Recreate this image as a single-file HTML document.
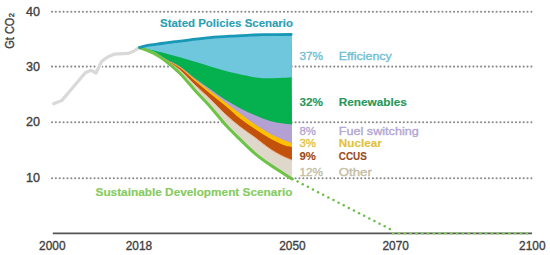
<!DOCTYPE html>
<html><head><meta charset="utf-8"><style>
html,body{margin:0;padding:0;background:#fff;width:550px;height:255px;overflow:hidden;}
svg{display:block;}
</style></head><body>
<svg width="550" height="255" viewBox="0 0 550 255">
<rect width="550" height="255" fill="#ffffff"/>
<g fill="#888888"><circle cx="52.00" cy="11.8" r="1.05"/><circle cx="55.87" cy="11.8" r="1.05"/><circle cx="59.73" cy="11.8" r="1.05"/><circle cx="63.60" cy="11.8" r="1.05"/><circle cx="67.46" cy="11.8" r="1.05"/><circle cx="71.33" cy="11.8" r="1.05"/><circle cx="75.20" cy="11.8" r="1.05"/><circle cx="79.06" cy="11.8" r="1.05"/><circle cx="82.93" cy="11.8" r="1.05"/><circle cx="86.80" cy="11.8" r="1.05"/><circle cx="90.66" cy="11.8" r="1.05"/><circle cx="94.53" cy="11.8" r="1.05"/><circle cx="98.39" cy="11.8" r="1.05"/><circle cx="102.26" cy="11.8" r="1.05"/><circle cx="106.13" cy="11.8" r="1.05"/><circle cx="109.99" cy="11.8" r="1.05"/><circle cx="113.86" cy="11.8" r="1.05"/><circle cx="117.72" cy="11.8" r="1.05"/><circle cx="121.59" cy="11.8" r="1.05"/><circle cx="125.46" cy="11.8" r="1.05"/><circle cx="129.32" cy="11.8" r="1.05"/><circle cx="133.19" cy="11.8" r="1.05"/><circle cx="137.05" cy="11.8" r="1.05"/><circle cx="140.92" cy="11.8" r="1.05"/><circle cx="144.79" cy="11.8" r="1.05"/><circle cx="148.65" cy="11.8" r="1.05"/><circle cx="152.52" cy="11.8" r="1.05"/><circle cx="156.39" cy="11.8" r="1.05"/><circle cx="160.25" cy="11.8" r="1.05"/><circle cx="164.12" cy="11.8" r="1.05"/><circle cx="167.98" cy="11.8" r="1.05"/><circle cx="171.85" cy="11.8" r="1.05"/><circle cx="175.72" cy="11.8" r="1.05"/><circle cx="179.58" cy="11.8" r="1.05"/><circle cx="183.45" cy="11.8" r="1.05"/><circle cx="187.31" cy="11.8" r="1.05"/><circle cx="191.18" cy="11.8" r="1.05"/><circle cx="195.05" cy="11.8" r="1.05"/><circle cx="198.91" cy="11.8" r="1.05"/><circle cx="202.78" cy="11.8" r="1.05"/><circle cx="206.65" cy="11.8" r="1.05"/><circle cx="210.51" cy="11.8" r="1.05"/><circle cx="214.38" cy="11.8" r="1.05"/><circle cx="218.24" cy="11.8" r="1.05"/><circle cx="222.11" cy="11.8" r="1.05"/><circle cx="225.98" cy="11.8" r="1.05"/><circle cx="229.84" cy="11.8" r="1.05"/><circle cx="233.71" cy="11.8" r="1.05"/><circle cx="237.57" cy="11.8" r="1.05"/><circle cx="241.44" cy="11.8" r="1.05"/><circle cx="245.31" cy="11.8" r="1.05"/><circle cx="249.17" cy="11.8" r="1.05"/><circle cx="253.04" cy="11.8" r="1.05"/><circle cx="256.90" cy="11.8" r="1.05"/><circle cx="260.77" cy="11.8" r="1.05"/><circle cx="264.64" cy="11.8" r="1.05"/><circle cx="268.50" cy="11.8" r="1.05"/><circle cx="272.37" cy="11.8" r="1.05"/><circle cx="276.24" cy="11.8" r="1.05"/><circle cx="280.10" cy="11.8" r="1.05"/><circle cx="283.97" cy="11.8" r="1.05"/><circle cx="287.83" cy="11.8" r="1.05"/><circle cx="291.70" cy="11.8" r="1.05"/><circle cx="295.57" cy="11.8" r="1.05"/><circle cx="299.43" cy="11.8" r="1.05"/><circle cx="303.30" cy="11.8" r="1.05"/><circle cx="307.16" cy="11.8" r="1.05"/><circle cx="311.03" cy="11.8" r="1.05"/><circle cx="314.90" cy="11.8" r="1.05"/><circle cx="318.76" cy="11.8" r="1.05"/><circle cx="322.63" cy="11.8" r="1.05"/><circle cx="326.50" cy="11.8" r="1.05"/><circle cx="330.36" cy="11.8" r="1.05"/><circle cx="334.23" cy="11.8" r="1.05"/><circle cx="338.09" cy="11.8" r="1.05"/><circle cx="341.96" cy="11.8" r="1.05"/><circle cx="345.83" cy="11.8" r="1.05"/><circle cx="349.69" cy="11.8" r="1.05"/><circle cx="353.56" cy="11.8" r="1.05"/><circle cx="357.42" cy="11.8" r="1.05"/><circle cx="361.29" cy="11.8" r="1.05"/><circle cx="365.16" cy="11.8" r="1.05"/><circle cx="369.02" cy="11.8" r="1.05"/><circle cx="372.89" cy="11.8" r="1.05"/><circle cx="376.75" cy="11.8" r="1.05"/><circle cx="380.62" cy="11.8" r="1.05"/><circle cx="384.49" cy="11.8" r="1.05"/><circle cx="388.35" cy="11.8" r="1.05"/><circle cx="392.22" cy="11.8" r="1.05"/><circle cx="396.09" cy="11.8" r="1.05"/><circle cx="399.95" cy="11.8" r="1.05"/><circle cx="403.82" cy="11.8" r="1.05"/><circle cx="407.68" cy="11.8" r="1.05"/><circle cx="411.55" cy="11.8" r="1.05"/><circle cx="415.42" cy="11.8" r="1.05"/><circle cx="419.28" cy="11.8" r="1.05"/><circle cx="423.15" cy="11.8" r="1.05"/><circle cx="427.01" cy="11.8" r="1.05"/><circle cx="430.88" cy="11.8" r="1.05"/><circle cx="434.75" cy="11.8" r="1.05"/><circle cx="438.61" cy="11.8" r="1.05"/><circle cx="442.48" cy="11.8" r="1.05"/><circle cx="446.35" cy="11.8" r="1.05"/><circle cx="450.21" cy="11.8" r="1.05"/><circle cx="454.08" cy="11.8" r="1.05"/><circle cx="457.94" cy="11.8" r="1.05"/><circle cx="461.81" cy="11.8" r="1.05"/><circle cx="465.68" cy="11.8" r="1.05"/><circle cx="469.54" cy="11.8" r="1.05"/><circle cx="473.41" cy="11.8" r="1.05"/><circle cx="477.27" cy="11.8" r="1.05"/><circle cx="481.14" cy="11.8" r="1.05"/><circle cx="485.01" cy="11.8" r="1.05"/><circle cx="488.87" cy="11.8" r="1.05"/><circle cx="492.74" cy="11.8" r="1.05"/><circle cx="496.60" cy="11.8" r="1.05"/><circle cx="500.47" cy="11.8" r="1.05"/><circle cx="504.34" cy="11.8" r="1.05"/><circle cx="508.20" cy="11.8" r="1.05"/><circle cx="512.07" cy="11.8" r="1.05"/><circle cx="515.94" cy="11.8" r="1.05"/><circle cx="519.80" cy="11.8" r="1.05"/><circle cx="523.67" cy="11.8" r="1.05"/><circle cx="527.53" cy="11.8" r="1.05"/><circle cx="531.40" cy="11.8" r="1.05"/></g>
<g fill="#888888"><circle cx="52.00" cy="66.6" r="1.05"/><circle cx="55.87" cy="66.6" r="1.05"/><circle cx="59.73" cy="66.6" r="1.05"/><circle cx="63.60" cy="66.6" r="1.05"/><circle cx="67.46" cy="66.6" r="1.05"/><circle cx="71.33" cy="66.6" r="1.05"/><circle cx="75.20" cy="66.6" r="1.05"/><circle cx="79.06" cy="66.6" r="1.05"/><circle cx="82.93" cy="66.6" r="1.05"/><circle cx="86.80" cy="66.6" r="1.05"/><circle cx="90.66" cy="66.6" r="1.05"/><circle cx="94.53" cy="66.6" r="1.05"/><circle cx="98.39" cy="66.6" r="1.05"/><circle cx="102.26" cy="66.6" r="1.05"/><circle cx="106.13" cy="66.6" r="1.05"/><circle cx="109.99" cy="66.6" r="1.05"/><circle cx="113.86" cy="66.6" r="1.05"/><circle cx="117.72" cy="66.6" r="1.05"/><circle cx="121.59" cy="66.6" r="1.05"/><circle cx="125.46" cy="66.6" r="1.05"/><circle cx="129.32" cy="66.6" r="1.05"/><circle cx="133.19" cy="66.6" r="1.05"/><circle cx="137.05" cy="66.6" r="1.05"/><circle cx="140.92" cy="66.6" r="1.05"/><circle cx="144.79" cy="66.6" r="1.05"/><circle cx="148.65" cy="66.6" r="1.05"/><circle cx="152.52" cy="66.6" r="1.05"/><circle cx="156.39" cy="66.6" r="1.05"/><circle cx="160.25" cy="66.6" r="1.05"/><circle cx="164.12" cy="66.6" r="1.05"/><circle cx="167.98" cy="66.6" r="1.05"/><circle cx="171.85" cy="66.6" r="1.05"/><circle cx="175.72" cy="66.6" r="1.05"/><circle cx="179.58" cy="66.6" r="1.05"/><circle cx="183.45" cy="66.6" r="1.05"/><circle cx="187.31" cy="66.6" r="1.05"/><circle cx="191.18" cy="66.6" r="1.05"/><circle cx="195.05" cy="66.6" r="1.05"/><circle cx="198.91" cy="66.6" r="1.05"/><circle cx="202.78" cy="66.6" r="1.05"/><circle cx="206.65" cy="66.6" r="1.05"/><circle cx="210.51" cy="66.6" r="1.05"/><circle cx="214.38" cy="66.6" r="1.05"/><circle cx="218.24" cy="66.6" r="1.05"/><circle cx="222.11" cy="66.6" r="1.05"/><circle cx="225.98" cy="66.6" r="1.05"/><circle cx="229.84" cy="66.6" r="1.05"/><circle cx="233.71" cy="66.6" r="1.05"/><circle cx="237.57" cy="66.6" r="1.05"/><circle cx="241.44" cy="66.6" r="1.05"/><circle cx="245.31" cy="66.6" r="1.05"/><circle cx="249.17" cy="66.6" r="1.05"/><circle cx="253.04" cy="66.6" r="1.05"/><circle cx="256.90" cy="66.6" r="1.05"/><circle cx="260.77" cy="66.6" r="1.05"/><circle cx="264.64" cy="66.6" r="1.05"/><circle cx="268.50" cy="66.6" r="1.05"/><circle cx="272.37" cy="66.6" r="1.05"/><circle cx="276.24" cy="66.6" r="1.05"/><circle cx="280.10" cy="66.6" r="1.05"/><circle cx="283.97" cy="66.6" r="1.05"/><circle cx="287.83" cy="66.6" r="1.05"/><circle cx="291.70" cy="66.6" r="1.05"/><circle cx="295.57" cy="66.6" r="1.05"/><circle cx="299.43" cy="66.6" r="1.05"/><circle cx="303.30" cy="66.6" r="1.05"/><circle cx="307.16" cy="66.6" r="1.05"/><circle cx="311.03" cy="66.6" r="1.05"/><circle cx="314.90" cy="66.6" r="1.05"/><circle cx="318.76" cy="66.6" r="1.05"/><circle cx="322.63" cy="66.6" r="1.05"/><circle cx="326.50" cy="66.6" r="1.05"/><circle cx="330.36" cy="66.6" r="1.05"/><circle cx="334.23" cy="66.6" r="1.05"/><circle cx="338.09" cy="66.6" r="1.05"/><circle cx="341.96" cy="66.6" r="1.05"/><circle cx="345.83" cy="66.6" r="1.05"/><circle cx="349.69" cy="66.6" r="1.05"/><circle cx="353.56" cy="66.6" r="1.05"/><circle cx="357.42" cy="66.6" r="1.05"/><circle cx="361.29" cy="66.6" r="1.05"/><circle cx="365.16" cy="66.6" r="1.05"/><circle cx="369.02" cy="66.6" r="1.05"/><circle cx="372.89" cy="66.6" r="1.05"/><circle cx="376.75" cy="66.6" r="1.05"/><circle cx="380.62" cy="66.6" r="1.05"/><circle cx="384.49" cy="66.6" r="1.05"/><circle cx="388.35" cy="66.6" r="1.05"/><circle cx="392.22" cy="66.6" r="1.05"/><circle cx="396.09" cy="66.6" r="1.05"/><circle cx="399.95" cy="66.6" r="1.05"/><circle cx="403.82" cy="66.6" r="1.05"/><circle cx="407.68" cy="66.6" r="1.05"/><circle cx="411.55" cy="66.6" r="1.05"/><circle cx="415.42" cy="66.6" r="1.05"/><circle cx="419.28" cy="66.6" r="1.05"/><circle cx="423.15" cy="66.6" r="1.05"/><circle cx="427.01" cy="66.6" r="1.05"/><circle cx="430.88" cy="66.6" r="1.05"/><circle cx="434.75" cy="66.6" r="1.05"/><circle cx="438.61" cy="66.6" r="1.05"/><circle cx="442.48" cy="66.6" r="1.05"/><circle cx="446.35" cy="66.6" r="1.05"/><circle cx="450.21" cy="66.6" r="1.05"/><circle cx="454.08" cy="66.6" r="1.05"/><circle cx="457.94" cy="66.6" r="1.05"/><circle cx="461.81" cy="66.6" r="1.05"/><circle cx="465.68" cy="66.6" r="1.05"/><circle cx="469.54" cy="66.6" r="1.05"/><circle cx="473.41" cy="66.6" r="1.05"/><circle cx="477.27" cy="66.6" r="1.05"/><circle cx="481.14" cy="66.6" r="1.05"/><circle cx="485.01" cy="66.6" r="1.05"/><circle cx="488.87" cy="66.6" r="1.05"/><circle cx="492.74" cy="66.6" r="1.05"/><circle cx="496.60" cy="66.6" r="1.05"/><circle cx="500.47" cy="66.6" r="1.05"/><circle cx="504.34" cy="66.6" r="1.05"/><circle cx="508.20" cy="66.6" r="1.05"/><circle cx="512.07" cy="66.6" r="1.05"/><circle cx="515.94" cy="66.6" r="1.05"/><circle cx="519.80" cy="66.6" r="1.05"/><circle cx="523.67" cy="66.6" r="1.05"/><circle cx="527.53" cy="66.6" r="1.05"/><circle cx="531.40" cy="66.6" r="1.05"/></g>
<g fill="#888888"><circle cx="52.00" cy="122.2" r="1.05"/><circle cx="55.87" cy="122.2" r="1.05"/><circle cx="59.73" cy="122.2" r="1.05"/><circle cx="63.60" cy="122.2" r="1.05"/><circle cx="67.46" cy="122.2" r="1.05"/><circle cx="71.33" cy="122.2" r="1.05"/><circle cx="75.20" cy="122.2" r="1.05"/><circle cx="79.06" cy="122.2" r="1.05"/><circle cx="82.93" cy="122.2" r="1.05"/><circle cx="86.80" cy="122.2" r="1.05"/><circle cx="90.66" cy="122.2" r="1.05"/><circle cx="94.53" cy="122.2" r="1.05"/><circle cx="98.39" cy="122.2" r="1.05"/><circle cx="102.26" cy="122.2" r="1.05"/><circle cx="106.13" cy="122.2" r="1.05"/><circle cx="109.99" cy="122.2" r="1.05"/><circle cx="113.86" cy="122.2" r="1.05"/><circle cx="117.72" cy="122.2" r="1.05"/><circle cx="121.59" cy="122.2" r="1.05"/><circle cx="125.46" cy="122.2" r="1.05"/><circle cx="129.32" cy="122.2" r="1.05"/><circle cx="133.19" cy="122.2" r="1.05"/><circle cx="137.05" cy="122.2" r="1.05"/><circle cx="140.92" cy="122.2" r="1.05"/><circle cx="144.79" cy="122.2" r="1.05"/><circle cx="148.65" cy="122.2" r="1.05"/><circle cx="152.52" cy="122.2" r="1.05"/><circle cx="156.39" cy="122.2" r="1.05"/><circle cx="160.25" cy="122.2" r="1.05"/><circle cx="164.12" cy="122.2" r="1.05"/><circle cx="167.98" cy="122.2" r="1.05"/><circle cx="171.85" cy="122.2" r="1.05"/><circle cx="175.72" cy="122.2" r="1.05"/><circle cx="179.58" cy="122.2" r="1.05"/><circle cx="183.45" cy="122.2" r="1.05"/><circle cx="187.31" cy="122.2" r="1.05"/><circle cx="191.18" cy="122.2" r="1.05"/><circle cx="195.05" cy="122.2" r="1.05"/><circle cx="198.91" cy="122.2" r="1.05"/><circle cx="202.78" cy="122.2" r="1.05"/><circle cx="206.65" cy="122.2" r="1.05"/><circle cx="210.51" cy="122.2" r="1.05"/><circle cx="214.38" cy="122.2" r="1.05"/><circle cx="218.24" cy="122.2" r="1.05"/><circle cx="222.11" cy="122.2" r="1.05"/><circle cx="225.98" cy="122.2" r="1.05"/><circle cx="229.84" cy="122.2" r="1.05"/><circle cx="233.71" cy="122.2" r="1.05"/><circle cx="237.57" cy="122.2" r="1.05"/><circle cx="241.44" cy="122.2" r="1.05"/><circle cx="245.31" cy="122.2" r="1.05"/><circle cx="249.17" cy="122.2" r="1.05"/><circle cx="253.04" cy="122.2" r="1.05"/><circle cx="256.90" cy="122.2" r="1.05"/><circle cx="260.77" cy="122.2" r="1.05"/><circle cx="264.64" cy="122.2" r="1.05"/><circle cx="268.50" cy="122.2" r="1.05"/><circle cx="272.37" cy="122.2" r="1.05"/><circle cx="276.24" cy="122.2" r="1.05"/><circle cx="280.10" cy="122.2" r="1.05"/><circle cx="283.97" cy="122.2" r="1.05"/><circle cx="287.83" cy="122.2" r="1.05"/><circle cx="291.70" cy="122.2" r="1.05"/><circle cx="295.57" cy="122.2" r="1.05"/><circle cx="299.43" cy="122.2" r="1.05"/><circle cx="303.30" cy="122.2" r="1.05"/><circle cx="307.16" cy="122.2" r="1.05"/><circle cx="311.03" cy="122.2" r="1.05"/><circle cx="314.90" cy="122.2" r="1.05"/><circle cx="318.76" cy="122.2" r="1.05"/><circle cx="322.63" cy="122.2" r="1.05"/><circle cx="326.50" cy="122.2" r="1.05"/><circle cx="330.36" cy="122.2" r="1.05"/><circle cx="334.23" cy="122.2" r="1.05"/><circle cx="338.09" cy="122.2" r="1.05"/><circle cx="341.96" cy="122.2" r="1.05"/><circle cx="345.83" cy="122.2" r="1.05"/><circle cx="349.69" cy="122.2" r="1.05"/><circle cx="353.56" cy="122.2" r="1.05"/><circle cx="357.42" cy="122.2" r="1.05"/><circle cx="361.29" cy="122.2" r="1.05"/><circle cx="365.16" cy="122.2" r="1.05"/><circle cx="369.02" cy="122.2" r="1.05"/><circle cx="372.89" cy="122.2" r="1.05"/><circle cx="376.75" cy="122.2" r="1.05"/><circle cx="380.62" cy="122.2" r="1.05"/><circle cx="384.49" cy="122.2" r="1.05"/><circle cx="388.35" cy="122.2" r="1.05"/><circle cx="392.22" cy="122.2" r="1.05"/><circle cx="396.09" cy="122.2" r="1.05"/><circle cx="399.95" cy="122.2" r="1.05"/><circle cx="403.82" cy="122.2" r="1.05"/><circle cx="407.68" cy="122.2" r="1.05"/><circle cx="411.55" cy="122.2" r="1.05"/><circle cx="415.42" cy="122.2" r="1.05"/><circle cx="419.28" cy="122.2" r="1.05"/><circle cx="423.15" cy="122.2" r="1.05"/><circle cx="427.01" cy="122.2" r="1.05"/><circle cx="430.88" cy="122.2" r="1.05"/><circle cx="434.75" cy="122.2" r="1.05"/><circle cx="438.61" cy="122.2" r="1.05"/><circle cx="442.48" cy="122.2" r="1.05"/><circle cx="446.35" cy="122.2" r="1.05"/><circle cx="450.21" cy="122.2" r="1.05"/><circle cx="454.08" cy="122.2" r="1.05"/><circle cx="457.94" cy="122.2" r="1.05"/><circle cx="461.81" cy="122.2" r="1.05"/><circle cx="465.68" cy="122.2" r="1.05"/><circle cx="469.54" cy="122.2" r="1.05"/><circle cx="473.41" cy="122.2" r="1.05"/><circle cx="477.27" cy="122.2" r="1.05"/><circle cx="481.14" cy="122.2" r="1.05"/><circle cx="485.01" cy="122.2" r="1.05"/><circle cx="488.87" cy="122.2" r="1.05"/><circle cx="492.74" cy="122.2" r="1.05"/><circle cx="496.60" cy="122.2" r="1.05"/><circle cx="500.47" cy="122.2" r="1.05"/><circle cx="504.34" cy="122.2" r="1.05"/><circle cx="508.20" cy="122.2" r="1.05"/><circle cx="512.07" cy="122.2" r="1.05"/><circle cx="515.94" cy="122.2" r="1.05"/><circle cx="519.80" cy="122.2" r="1.05"/><circle cx="523.67" cy="122.2" r="1.05"/><circle cx="527.53" cy="122.2" r="1.05"/><circle cx="531.40" cy="122.2" r="1.05"/></g>
<g fill="#888888"><circle cx="52.00" cy="178.2" r="1.05"/><circle cx="55.87" cy="178.2" r="1.05"/><circle cx="59.73" cy="178.2" r="1.05"/><circle cx="63.60" cy="178.2" r="1.05"/><circle cx="67.46" cy="178.2" r="1.05"/><circle cx="71.33" cy="178.2" r="1.05"/><circle cx="75.20" cy="178.2" r="1.05"/><circle cx="79.06" cy="178.2" r="1.05"/><circle cx="82.93" cy="178.2" r="1.05"/><circle cx="86.80" cy="178.2" r="1.05"/><circle cx="90.66" cy="178.2" r="1.05"/><circle cx="94.53" cy="178.2" r="1.05"/><circle cx="98.39" cy="178.2" r="1.05"/><circle cx="102.26" cy="178.2" r="1.05"/><circle cx="106.13" cy="178.2" r="1.05"/><circle cx="109.99" cy="178.2" r="1.05"/><circle cx="113.86" cy="178.2" r="1.05"/><circle cx="117.72" cy="178.2" r="1.05"/><circle cx="121.59" cy="178.2" r="1.05"/><circle cx="125.46" cy="178.2" r="1.05"/><circle cx="129.32" cy="178.2" r="1.05"/><circle cx="133.19" cy="178.2" r="1.05"/><circle cx="137.05" cy="178.2" r="1.05"/><circle cx="140.92" cy="178.2" r="1.05"/><circle cx="144.79" cy="178.2" r="1.05"/><circle cx="148.65" cy="178.2" r="1.05"/><circle cx="152.52" cy="178.2" r="1.05"/><circle cx="156.39" cy="178.2" r="1.05"/><circle cx="160.25" cy="178.2" r="1.05"/><circle cx="164.12" cy="178.2" r="1.05"/><circle cx="167.98" cy="178.2" r="1.05"/><circle cx="171.85" cy="178.2" r="1.05"/><circle cx="175.72" cy="178.2" r="1.05"/><circle cx="179.58" cy="178.2" r="1.05"/><circle cx="183.45" cy="178.2" r="1.05"/><circle cx="187.31" cy="178.2" r="1.05"/><circle cx="191.18" cy="178.2" r="1.05"/><circle cx="195.05" cy="178.2" r="1.05"/><circle cx="198.91" cy="178.2" r="1.05"/><circle cx="202.78" cy="178.2" r="1.05"/><circle cx="206.65" cy="178.2" r="1.05"/><circle cx="210.51" cy="178.2" r="1.05"/><circle cx="214.38" cy="178.2" r="1.05"/><circle cx="218.24" cy="178.2" r="1.05"/><circle cx="222.11" cy="178.2" r="1.05"/><circle cx="225.98" cy="178.2" r="1.05"/><circle cx="229.84" cy="178.2" r="1.05"/><circle cx="233.71" cy="178.2" r="1.05"/><circle cx="237.57" cy="178.2" r="1.05"/><circle cx="241.44" cy="178.2" r="1.05"/><circle cx="245.31" cy="178.2" r="1.05"/><circle cx="249.17" cy="178.2" r="1.05"/><circle cx="253.04" cy="178.2" r="1.05"/><circle cx="256.90" cy="178.2" r="1.05"/><circle cx="260.77" cy="178.2" r="1.05"/><circle cx="264.64" cy="178.2" r="1.05"/><circle cx="268.50" cy="178.2" r="1.05"/><circle cx="272.37" cy="178.2" r="1.05"/><circle cx="276.24" cy="178.2" r="1.05"/><circle cx="280.10" cy="178.2" r="1.05"/><circle cx="283.97" cy="178.2" r="1.05"/><circle cx="287.83" cy="178.2" r="1.05"/><circle cx="291.70" cy="178.2" r="1.05"/><circle cx="295.57" cy="178.2" r="1.05"/><circle cx="299.43" cy="178.2" r="1.05"/><circle cx="303.30" cy="178.2" r="1.05"/><circle cx="307.16" cy="178.2" r="1.05"/><circle cx="311.03" cy="178.2" r="1.05"/><circle cx="314.90" cy="178.2" r="1.05"/><circle cx="318.76" cy="178.2" r="1.05"/><circle cx="322.63" cy="178.2" r="1.05"/><circle cx="326.50" cy="178.2" r="1.05"/><circle cx="330.36" cy="178.2" r="1.05"/><circle cx="334.23" cy="178.2" r="1.05"/><circle cx="338.09" cy="178.2" r="1.05"/><circle cx="341.96" cy="178.2" r="1.05"/><circle cx="345.83" cy="178.2" r="1.05"/><circle cx="349.69" cy="178.2" r="1.05"/><circle cx="353.56" cy="178.2" r="1.05"/><circle cx="357.42" cy="178.2" r="1.05"/><circle cx="361.29" cy="178.2" r="1.05"/><circle cx="365.16" cy="178.2" r="1.05"/><circle cx="369.02" cy="178.2" r="1.05"/><circle cx="372.89" cy="178.2" r="1.05"/><circle cx="376.75" cy="178.2" r="1.05"/><circle cx="380.62" cy="178.2" r="1.05"/><circle cx="384.49" cy="178.2" r="1.05"/><circle cx="388.35" cy="178.2" r="1.05"/><circle cx="392.22" cy="178.2" r="1.05"/><circle cx="396.09" cy="178.2" r="1.05"/><circle cx="399.95" cy="178.2" r="1.05"/><circle cx="403.82" cy="178.2" r="1.05"/><circle cx="407.68" cy="178.2" r="1.05"/><circle cx="411.55" cy="178.2" r="1.05"/><circle cx="415.42" cy="178.2" r="1.05"/><circle cx="419.28" cy="178.2" r="1.05"/><circle cx="423.15" cy="178.2" r="1.05"/><circle cx="427.01" cy="178.2" r="1.05"/><circle cx="430.88" cy="178.2" r="1.05"/><circle cx="434.75" cy="178.2" r="1.05"/><circle cx="438.61" cy="178.2" r="1.05"/><circle cx="442.48" cy="178.2" r="1.05"/><circle cx="446.35" cy="178.2" r="1.05"/><circle cx="450.21" cy="178.2" r="1.05"/><circle cx="454.08" cy="178.2" r="1.05"/><circle cx="457.94" cy="178.2" r="1.05"/><circle cx="461.81" cy="178.2" r="1.05"/><circle cx="465.68" cy="178.2" r="1.05"/><circle cx="469.54" cy="178.2" r="1.05"/><circle cx="473.41" cy="178.2" r="1.05"/><circle cx="477.27" cy="178.2" r="1.05"/><circle cx="481.14" cy="178.2" r="1.05"/><circle cx="485.01" cy="178.2" r="1.05"/><circle cx="488.87" cy="178.2" r="1.05"/><circle cx="492.74" cy="178.2" r="1.05"/><circle cx="496.60" cy="178.2" r="1.05"/><circle cx="500.47" cy="178.2" r="1.05"/><circle cx="504.34" cy="178.2" r="1.05"/><circle cx="508.20" cy="178.2" r="1.05"/><circle cx="512.07" cy="178.2" r="1.05"/><circle cx="515.94" cy="178.2" r="1.05"/><circle cx="519.80" cy="178.2" r="1.05"/><circle cx="523.67" cy="178.2" r="1.05"/><circle cx="527.53" cy="178.2" r="1.05"/><circle cx="531.40" cy="178.2" r="1.05"/></g>
<line x1="52.8" y1="233.4" x2="532" y2="233.4" stroke="#555555" stroke-width="1.6"/>
<polyline points="52.5,104.2 61.7,100.6 73.5,86.8 85.3,72.8 91.1,70.3 96.0,73.0 101.5,61.5 107.6,57.0 114.7,54.1 127.9,53.4 134.1,50.9 139.5,47.3" fill="none" stroke="#ffffff" stroke-width="5.5" stroke-linejoin="round"/>
<polyline points="52.5,104.2 61.7,100.6 73.5,86.8 85.3,72.8 91.1,70.3 96.0,73.0 101.5,61.5 107.6,57.0 114.7,54.1 127.9,53.4 134.1,50.9 139.5,47.3" fill="none" stroke="#d9d9d9" stroke-width="3.2" stroke-linejoin="round"/>
<path d="M139.50,47.50 C140.85,47.15 143.97,46.07 147.60,45.40 C151.23,44.73 156.73,44.12 161.30,43.50 C165.87,42.88 170.22,42.32 175.00,41.70 C179.78,41.08 184.17,40.48 190.00,39.80 C195.83,39.12 203.33,38.20 210.00,37.60 C216.67,37.00 223.33,36.60 230.00,36.20 C236.67,35.80 244.67,35.45 250.00,35.20 C255.33,34.95 255.13,34.82 262.00,34.70 C268.87,34.58 286.33,34.53 291.20,34.50 L292.00,179.00 C288.33,176.63 276.17,169.03 270.00,164.80 C263.83,160.57 260.00,157.83 255.00,153.60 C250.00,149.37 245.00,144.30 240.00,139.40 C235.00,134.50 230.00,129.70 225.00,124.20 C220.00,118.70 215.00,112.03 210.00,106.40 C205.00,100.77 200.00,95.88 195.00,90.40 C190.00,84.92 185.00,78.47 180.00,73.50 C175.00,68.53 169.50,64.02 165.00,60.60 C160.50,57.18 157.25,55.18 153.00,53.00 C148.75,50.82 141.75,48.42 139.50,47.50 Z" fill="#dfd8ca"/>
<path d="M139.50,47.50 C140.85,47.15 143.97,46.07 147.60,45.40 C151.23,44.73 156.73,44.12 161.30,43.50 C165.87,42.88 170.22,42.32 175.00,41.70 C179.78,41.08 184.17,40.48 190.00,39.80 C195.83,39.12 203.33,38.20 210.00,37.60 C216.67,37.00 223.33,36.60 230.00,36.20 C236.67,35.80 244.67,35.45 250.00,35.20 C255.33,34.95 255.13,34.82 262.00,34.70 C268.87,34.58 286.33,34.53 291.20,34.50 L292.00,160.20 C290.50,159.57 286.67,158.27 283.00,156.40 C279.33,154.53 274.67,152.13 270.00,149.00 C265.33,145.87 260.00,141.30 255.00,137.60 C250.00,133.90 245.00,130.73 240.00,126.80 C235.00,122.87 230.00,118.63 225.00,114.00 C220.00,109.37 215.00,103.83 210.00,99.00 C205.00,94.17 200.00,89.80 195.00,85.00 C190.00,80.20 185.00,74.47 180.00,70.20 C175.00,65.93 169.50,62.43 165.00,59.40 C160.50,56.37 157.25,53.98 153.00,52.00 C148.75,50.02 141.75,48.25 139.50,47.50 Z" fill="#c2510c"/>
<path d="M139.50,47.50 C140.85,47.15 143.97,46.07 147.60,45.40 C151.23,44.73 156.73,44.12 161.30,43.50 C165.87,42.88 170.22,42.32 175.00,41.70 C179.78,41.08 184.17,40.48 190.00,39.80 C195.83,39.12 203.33,38.20 210.00,37.60 C216.67,37.00 223.33,36.60 230.00,36.20 C236.67,35.80 244.67,35.45 250.00,35.20 C255.33,34.95 255.13,34.82 262.00,34.70 C268.87,34.58 286.33,34.53 291.20,34.50 L292.00,147.00 C290.83,146.77 288.67,147.03 285.00,145.60 C281.33,144.17 275.00,141.17 270.00,138.40 C265.00,135.63 260.00,132.33 255.00,129.00 C250.00,125.67 245.00,122.33 240.00,118.40 C235.00,114.47 230.00,109.55 225.00,105.40 C220.00,101.25 215.00,97.57 210.00,93.50 C205.00,89.43 200.00,85.25 195.00,81.00 C190.00,76.75 185.00,71.67 180.00,68.00 C175.00,64.33 169.50,61.72 165.00,59.00 C160.50,56.28 157.25,53.62 153.00,51.70 C148.75,49.78 141.75,48.20 139.50,47.50 Z" fill="#ffc000"/>
<path d="M139.50,47.50 C140.85,47.15 143.97,46.07 147.60,45.40 C151.23,44.73 156.73,44.12 161.30,43.50 C165.87,42.88 170.22,42.32 175.00,41.70 C179.78,41.08 184.17,40.48 190.00,39.80 C195.83,39.12 203.33,38.20 210.00,37.60 C216.67,37.00 223.33,36.60 230.00,36.20 C236.67,35.80 244.67,35.45 250.00,35.20 C255.33,34.95 255.13,34.82 262.00,34.70 C268.87,34.58 286.33,34.53 291.20,34.50 L292.00,143.00 C290.83,142.58 288.67,142.03 285.00,140.50 C281.33,138.97 275.00,136.45 270.00,133.80 C265.00,131.15 260.00,127.97 255.00,124.60 C250.00,121.23 245.00,117.33 240.00,113.60 C235.00,109.87 230.00,105.97 225.00,102.20 C220.00,98.43 215.00,94.80 210.00,91.00 C205.00,87.20 200.00,83.37 195.00,79.40 C190.00,75.43 185.00,70.65 180.00,67.20 C175.00,63.75 169.50,61.32 165.00,58.70 C160.50,56.08 157.25,53.37 153.00,51.50 C148.75,49.63 141.75,48.17 139.50,47.50 Z" fill="#b3a1d4"/>
<path d="M139.50,47.50 C140.85,47.15 143.97,46.07 147.60,45.40 C151.23,44.73 156.73,44.12 161.30,43.50 C165.87,42.88 170.22,42.32 175.00,41.70 C179.78,41.08 184.17,40.48 190.00,39.80 C195.83,39.12 203.33,38.20 210.00,37.60 C216.67,37.00 223.33,36.60 230.00,36.20 C236.67,35.80 244.67,35.45 250.00,35.20 C255.33,34.95 255.13,34.82 262.00,34.70 C268.87,34.58 286.33,34.53 291.20,34.50 L292.00,124.40 C290.33,124.22 285.67,123.87 282.00,123.30 C278.33,122.73 274.50,122.35 270.00,121.00 C265.50,119.65 260.00,117.33 255.00,115.20 C250.00,113.07 245.00,110.80 240.00,108.20 C235.00,105.60 230.00,102.80 225.00,99.60 C220.00,96.40 215.00,92.50 210.00,89.00 C205.00,85.50 200.00,82.33 195.00,78.60 C190.00,74.87 185.00,69.97 180.00,66.60 C175.00,63.23 169.50,60.95 165.00,58.40 C160.50,55.85 157.25,53.12 153.00,51.30 C148.75,49.48 141.75,48.13 139.50,47.50 Z" fill="#05b04e"/>
<path d="M139.50,47.50 C140.85,47.15 143.97,46.07 147.60,45.40 C151.23,44.73 156.73,44.12 161.30,43.50 C165.87,42.88 170.22,42.32 175.00,41.70 C179.78,41.08 184.17,40.48 190.00,39.80 C195.83,39.12 203.33,38.20 210.00,37.60 C216.67,37.00 223.33,36.60 230.00,36.20 C236.67,35.80 244.67,35.45 250.00,35.20 C255.33,34.95 255.13,34.82 262.00,34.70 C268.87,34.58 286.33,34.53 291.20,34.50 L292.00,77.20 C289.67,77.33 282.67,77.83 278.00,78.00 C273.33,78.17 268.67,78.47 264.00,78.20 C259.33,77.93 256.50,77.63 250.00,76.40 C243.50,75.17 234.17,73.23 225.00,70.80 C215.83,68.37 205.00,64.73 195.00,61.80 C185.00,58.87 174.25,55.58 165.00,53.20 C155.75,50.82 143.75,48.45 139.50,47.50 Z" fill="#6ec7dd"/>
<path d="M139.50,47.50 C141.75,48.25 148.75,50.02 153.00,52.00 C157.25,53.98 160.50,56.37 165.00,59.40 C169.50,62.43 175.00,65.93 180.00,70.20 C185.00,74.47 190.00,80.20 195.00,85.00 C200.00,89.80 205.00,94.17 210.00,99.00 C215.00,103.83 220.00,109.37 225.00,114.00 C230.00,118.63 235.00,122.87 240.00,126.80 C245.00,130.73 250.00,133.90 255.00,137.60 C260.00,141.30 265.33,145.87 270.00,149.00 C274.67,152.13 279.33,154.53 283.00,156.40 C286.67,158.27 290.50,159.57 292.00,160.20" fill="none" stroke="#f0b48c" stroke-width="1"/>
<path d="M139.50,47.50 C141.75,48.42 148.75,50.82 153.00,53.00 C157.25,55.18 160.50,57.18 165.00,60.60 C169.50,64.02 175.00,68.53 180.00,73.50 C185.00,78.47 190.00,84.92 195.00,90.40 C200.00,95.88 205.00,100.77 210.00,106.40 C215.00,112.03 220.00,118.70 225.00,124.20 C230.00,129.70 235.00,134.50 240.00,139.40 C245.00,144.30 250.00,149.37 255.00,153.60 C260.00,157.83 263.83,160.57 270.00,164.80 C276.17,169.03 288.33,176.63 292.00,179.00" fill="none" stroke="#6cc445" stroke-width="3" stroke-linecap="round"/>
<path d="M139.50,47.50 C140.85,47.15 143.97,46.07 147.60,45.40 C151.23,44.73 156.73,44.12 161.30,43.50 C165.87,42.88 170.22,42.32 175.00,41.70 C179.78,41.08 184.17,40.48 190.00,39.80 C195.83,39.12 203.33,38.20 210.00,37.60 C216.67,37.00 223.33,36.60 230.00,36.20 C236.67,35.80 244.67,35.45 250.00,35.20 C255.33,34.95 255.13,34.82 262.00,34.70 C268.87,34.58 286.33,34.53 291.20,34.50" fill="none" stroke="#1897b6" stroke-width="2.8" stroke-linecap="round"/>
<g fill="#6cbc48"><circle cx="292.48" cy="178.97" r="1.25"/><circle cx="297.60" cy="181.60" r="1.25"/><circle cx="302.72" cy="184.23" r="1.25"/><circle cx="307.84" cy="186.87" r="1.25"/><circle cx="312.97" cy="189.50" r="1.25"/><circle cx="318.09" cy="192.13" r="1.25"/><circle cx="323.21" cy="194.77" r="1.25"/><circle cx="328.33" cy="197.40" r="1.25"/><circle cx="333.46" cy="200.03" r="1.25"/><circle cx="338.58" cy="202.67" r="1.25"/><circle cx="343.70" cy="205.30" r="1.25"/><circle cx="348.82" cy="207.93" r="1.25"/><circle cx="353.94" cy="210.57" r="1.25"/><circle cx="359.07" cy="213.20" r="1.25"/><circle cx="364.19" cy="215.83" r="1.25"/><circle cx="369.31" cy="218.47" r="1.25"/><circle cx="374.43" cy="221.10" r="1.25"/><circle cx="379.56" cy="223.73" r="1.25"/><circle cx="384.68" cy="226.37" r="1.25"/><circle cx="389.80" cy="229.00" r="1.25"/></g>
<g fill="#8acb66"><circle cx="393.20" cy="233.4" r="1.35"/><circle cx="399.01" cy="233.4" r="1.35"/><circle cx="404.82" cy="233.4" r="1.35"/><circle cx="410.63" cy="233.4" r="1.35"/><circle cx="416.43" cy="233.4" r="1.35"/><circle cx="422.24" cy="233.4" r="1.35"/><circle cx="428.05" cy="233.4" r="1.35"/><circle cx="433.86" cy="233.4" r="1.35"/><circle cx="439.67" cy="233.4" r="1.35"/><circle cx="445.48" cy="233.4" r="1.35"/><circle cx="451.29" cy="233.4" r="1.35"/><circle cx="457.10" cy="233.4" r="1.35"/><circle cx="462.90" cy="233.4" r="1.35"/><circle cx="468.71" cy="233.4" r="1.35"/><circle cx="474.52" cy="233.4" r="1.35"/><circle cx="480.33" cy="233.4" r="1.35"/><circle cx="486.14" cy="233.4" r="1.35"/><circle cx="491.95" cy="233.4" r="1.35"/><circle cx="497.76" cy="233.4" r="1.35"/><circle cx="503.57" cy="233.4" r="1.35"/><circle cx="509.37" cy="233.4" r="1.35"/><circle cx="515.18" cy="233.4" r="1.35"/><circle cx="520.99" cy="233.4" r="1.35"/><circle cx="526.80" cy="233.4" r="1.35"/></g>
<text x="26.0" y="15.6" font-family="Liberation Sans, sans-serif" font-size="12.40" font-weight="normal" fill="#404040" stroke="#404040" stroke-width="0.35" text-anchor="start" textLength="14.0" lengthAdjust="spacingAndGlyphs">40</text>
<text x="26.0" y="70.8" font-family="Liberation Sans, sans-serif" font-size="12.40" font-weight="normal" fill="#404040" stroke="#404040" stroke-width="0.35" text-anchor="start" textLength="14.0" lengthAdjust="spacingAndGlyphs">30</text>
<text x="26.0" y="126.0" font-family="Liberation Sans, sans-serif" font-size="12.40" font-weight="normal" fill="#404040" stroke="#404040" stroke-width="0.35" text-anchor="start" textLength="14.0" lengthAdjust="spacingAndGlyphs">20</text>
<text x="26.0" y="181.6" font-family="Liberation Sans, sans-serif" font-size="12.40" font-weight="normal" fill="#404040" stroke="#404040" stroke-width="0.35" text-anchor="start" textLength="14.0" lengthAdjust="spacingAndGlyphs">10</text>
<text x="39.1" y="250.2" font-family="Liberation Sans, sans-serif" font-size="12.40" font-weight="normal" fill="#404040" stroke="#404040" stroke-width="0.35" text-anchor="start" textLength="26.4" lengthAdjust="spacingAndGlyphs">2000</text>
<text x="125.7" y="250.2" font-family="Liberation Sans, sans-serif" font-size="12.40" font-weight="normal" fill="#404040" stroke="#404040" stroke-width="0.35" text-anchor="start" textLength="26.4" lengthAdjust="spacingAndGlyphs">2018</text>
<text x="279.2" y="250.2" font-family="Liberation Sans, sans-serif" font-size="12.40" font-weight="normal" fill="#404040" stroke="#404040" stroke-width="0.35" text-anchor="start" textLength="26.4" lengthAdjust="spacingAndGlyphs">2050</text>
<text x="382.5" y="250.2" font-family="Liberation Sans, sans-serif" font-size="12.40" font-weight="normal" fill="#404040" stroke="#404040" stroke-width="0.35" text-anchor="start" textLength="26.4" lengthAdjust="spacingAndGlyphs">2070</text>
<text x="519.1" y="250.2" font-family="Liberation Sans, sans-serif" font-size="12.40" font-weight="normal" fill="#404040" stroke="#404040" stroke-width="0.35" text-anchor="start" textLength="26.4" lengthAdjust="spacingAndGlyphs">2100</text>
<g transform="translate(13.6,48.8) rotate(-90)"><text x="0.0" y="0.0" font-family="Liberation Sans, sans-serif" font-size="12.00" font-weight="normal" fill="#404040" stroke="#404040" stroke-width="0.35" text-anchor="start" textLength="31.2" lengthAdjust="spacingAndGlyphs">Gt CO</text><text x="31.6" y="0.6" font-family="Liberation Sans, sans-serif" font-size="8.00" font-weight="normal" fill="#404040" stroke="#404040" stroke-width="0.35" text-anchor="start" textLength="4.2" lengthAdjust="spacingAndGlyphs">2</text></g>
<text x="160.0" y="27.4" font-family="Liberation Sans, sans-serif" font-size="11.70" font-weight="bold" fill="#2a9fb4" stroke="#2a9fb4" stroke-width="0.15" text-anchor="start" textLength="133.0" lengthAdjust="spacingAndGlyphs">Stated Policies Scenario</text>
<text x="95.5" y="195.6" font-family="Liberation Sans, sans-serif" font-size="11.70" font-weight="bold" fill="#86cb5e" stroke="#86cb5e" stroke-width="0.15" text-anchor="start" textLength="197.0" lengthAdjust="spacingAndGlyphs">Sustainable Development Scenario</text>
<text x="299.5" y="60.4" font-family="Liberation Sans, sans-serif" font-size="11.70" font-weight="normal" fill="#70bed2" stroke="#70bed2" stroke-width="0.35" text-anchor="start" textLength="23.5" lengthAdjust="spacingAndGlyphs">37%</text>
<text x="338.8" y="60.4" font-family="Liberation Sans, sans-serif" font-size="11.70" font-weight="normal" fill="#70bed2" stroke="#70bed2" stroke-width="0.35" text-anchor="start" textLength="53.0" lengthAdjust="spacingAndGlyphs">Efficiency</text>
<text x="299.5" y="105.8" font-family="Liberation Sans, sans-serif" font-size="11.70" font-weight="bold" fill="#28985a" stroke="#28985a" stroke-width="0.15" text-anchor="start" textLength="23.5" lengthAdjust="spacingAndGlyphs">32%</text>
<text x="338.8" y="105.8" font-family="Liberation Sans, sans-serif" font-size="11.70" font-weight="bold" fill="#28985a" stroke="#28985a" stroke-width="0.15" text-anchor="start" textLength="68.0" lengthAdjust="spacingAndGlyphs">Renewables</text>
<text x="299.5" y="135.0" font-family="Liberation Sans, sans-serif" font-size="11.70" font-weight="normal" fill="#b3a6d3" stroke="#b3a6d3" stroke-width="0.35" text-anchor="start" textLength="16.5" lengthAdjust="spacingAndGlyphs">8%</text>
<text x="338.8" y="135.0" font-family="Liberation Sans, sans-serif" font-size="11.70" font-weight="normal" fill="#b3a6d3" stroke="#b3a6d3" stroke-width="0.35" text-anchor="start" textLength="80.0" lengthAdjust="spacingAndGlyphs">Fuel switching</text>
<text x="299.5" y="147.2" font-family="Liberation Sans, sans-serif" font-size="11.70" font-weight="normal" fill="#e2c23c" stroke="#e2c23c" stroke-width="0.35" text-anchor="start" textLength="16.5" lengthAdjust="spacingAndGlyphs">3%</text>
<text x="338.8" y="147.2" font-family="Liberation Sans, sans-serif" font-size="11.70" font-weight="bold" fill="#e2c23c" stroke="#e2c23c" stroke-width="0.15" text-anchor="start" textLength="43.0" lengthAdjust="spacingAndGlyphs">Nuclear</text>
<text x="299.5" y="160.4" font-family="Liberation Sans, sans-serif" font-size="11.70" font-weight="bold" fill="#9a4a22" stroke="#9a4a22" stroke-width="0.15" text-anchor="start" textLength="16.5" lengthAdjust="spacingAndGlyphs">9%</text>
<text x="338.8" y="160.4" font-family="Liberation Sans, sans-serif" font-size="11.70" font-weight="bold" fill="#9a4a22" stroke="#9a4a22" stroke-width="0.15" text-anchor="start" textLength="28.0" lengthAdjust="spacingAndGlyphs">CCUS</text>
<text x="299.5" y="176.0" font-family="Liberation Sans, sans-serif" font-size="11.70" font-weight="normal" fill="#c4bda3" stroke="#c4bda3" stroke-width="0.35" text-anchor="start" textLength="23.5" lengthAdjust="spacingAndGlyphs">12%</text>
<text x="338.8" y="176.0" font-family="Liberation Sans, sans-serif" font-size="11.70" font-weight="normal" fill="#c4bda3" stroke="#c4bda3" stroke-width="0.35" text-anchor="start" textLength="33.0" lengthAdjust="spacingAndGlyphs">Other</text>
</svg>
</body></html>
